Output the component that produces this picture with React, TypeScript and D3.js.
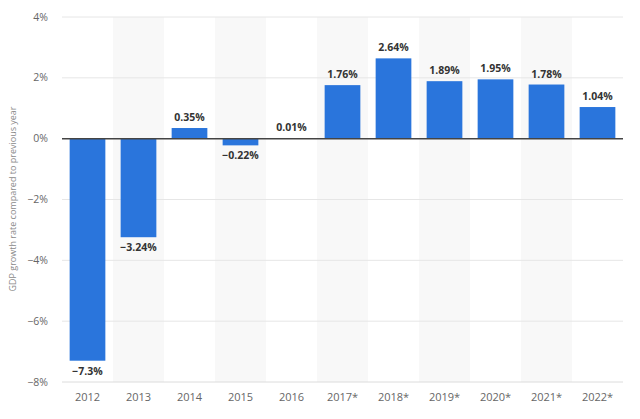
import React from "react";
import * as d3 from "d3";

const categories = ["2012", "2013", "2014", "2015", "2016", "2017*", "2018*", "2019*", "2020*", "2021*", "2022*"];
const values = [-7.3, -3.24, 0.35, -0.22, 0.01, 1.76, 2.64, 1.89, 1.95, 1.78, 1.04];
const valueLabels = ["-7.3%", "-3.24%", "0.35%", "-0.22%", "0.01%", "1.76%", "2.64%", "1.89%", "1.95%", "1.78%", "1.04%"];
const yTicks = [4, 2, 0, -2, -4, -6, -8];
const yTitle = "GDP growth rate compared to previous year";

const W = 640;
const H = 419;
const left = 62;
const right = 623;
const top = 17;
const bottom = 382;

export default function App() {
  const x = d3.scaleBand<string>().domain(categories).range([left, right]).paddingInner(0.3).paddingOuter(0.15);
  const xb = d3.scaleBand<string>().domain(categories).range([left, right]).padding(0);
  const y = d3.scaleLinear().domain([-8, 4]).range([bottom, top]);
  const font = "'Open Sans', 'DejaVu Sans', sans-serif";
  return (
    <svg width={W} height={H} style={{ position: "absolute", left: 0, top: 0, background: "#fff" }}>
      {categories.map((c, i) =>
        i % 2 === 1 ? (
          <rect key={"s" + c} x={xb(c)} y={top} width={xb.bandwidth()} height={bottom - top} fill="#f8f8f8" />
        ) : null
      )}
      {yTicks.map((t) => (
        <g key={"t" + t}>
          {t !== 0 && (
            <line x1={left} x2={right} y1={y(t)} y2={y(t)} stroke={t === -8 ? "#dcdcdc" : "#e6e6e6"} strokeWidth={1} />
          )}
          <text x={48} y={y(t) + 3.5} textAnchor="end" fontSize={10.5} fill="#666" fontFamily={font}>
            {t < 0 ? "\u2212" + Math.abs(t) + "%" : t + "%"}
          </text>
        </g>
      ))}
      {categories.map((c, i) => {
        const v = values[i];
        const y0 = y(0);
        const y1 = y(v);
        return (
          <rect key={"b" + c} x={x(c)} y={Math.min(y0, y1)} width={x.bandwidth()} height={Math.abs(y1 - y0)} fill="#2a75dc" />
        );
      })}
      <line x1={left} x2={right} y1={y(0)} y2={y(0)} stroke="#444" strokeWidth={1.5} />
      {categories.map((c, i) => {
        const v = values[i];
        const cx = (x(c) as number) + x.bandwidth() / 2;
        const ty = v >= 0 ? y(v) - 7 : y(v) + 14;
        return (
          <text key={"l" + c} x={cx} y={ty} textAnchor="middle" fontSize={10.5} fontWeight="bold" fill="#333" fontFamily={font}>
            {valueLabels[i].replace("-", "\u2212")}
          </text>
        );
      })}
      {categories.map((c) => (
        <text key={"x" + c} x={(xb(c) as number) + xb.bandwidth() / 2} y={401} textAnchor="middle" fontSize={11} fill="#666" fontFamily={font}>
          {c}
        </text>
      ))}
      <text
        transform={`translate(16, 199) rotate(-90)`}
        textAnchor="middle"
        fontSize={9}
        fill="#8a8a8a"
        fontFamily={font}
      >
        {yTitle}
      </text>
    </svg>
  );
}
